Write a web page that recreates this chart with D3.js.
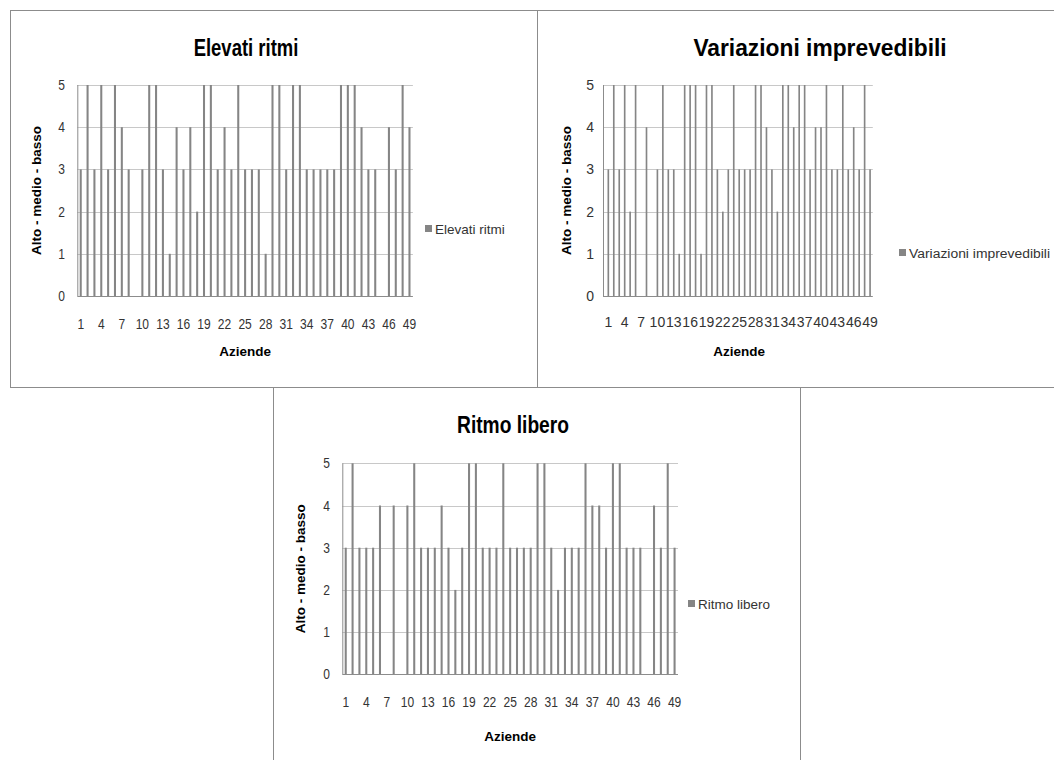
<!DOCTYPE html>
<html><head><meta charset="utf-8">
<script src="https://cdn.jsdelivr.net/npm/d3@7"></script>
<style>
html,body{margin:0;padding:0;background:#fff;}
svg{display:block;}
</style></head>
<body>
<svg id="c" width="1054" height="760"></svg>
<script>
// ---- data ----
const categories = d3.range(1, 50);
const tickLabels = categories.filter((d, i) => i % 3 === 0);
const yTicks = [0, 1, 2, 3, 4, 5];
const elevatiRitmi = [3,5,3,5,3,5,4,3,0,3,5,5,3,1,4,3,4,2,5,5,3,4,3,5,3,3,3,1,5,5,3,5,5,3,3,3,3,3,5,5,5,4,3,3,0,4,3,5,4];
const variazioniImprevedibili = [3,5,3,5,2,5,0,4,0,3,5,3,3,1,5,5,5,1,5,5,3,2,3,5,3,3,3,5,5,4,3,2,5,5,4,5,5,3,4,4,5,3,3,5,3,4,3,5,3];
const ritmoLibero = [3,5,3,3,3,4,0,4,0,4,5,3,3,3,4,3,2,3,5,5,3,3,3,5,3,3,3,3,5,5,3,2,3,3,3,5,4,4,3,5,5,3,3,3,0,4,3,5,3];
const titles = ["Elevati ritmi", "Variazioni imprevedibili", "Ritmo libero"];
const yAxisTitle = "Alto - medio - basso";
const xAxisTitle = "Aziende";

// ---- layout ----
const FONT = "'Liberation Sans', Arial, sans-serif";
const charts = [
  {values: elevatiRitmi, title: titles[0], sx: 0.86, titleSx: 0.77,
   frame: [10, 10, 527, 377], axisX: 77.3, band: [77.3, 412.9], yr: [296, 85],
   titleXY: [246, 56], ytitleX: 41, xtitleY: 356, xtickY: 329, ytickX: 65,
   legend: [425, 229], legendSx: 1},
  {values: variazioniImprevedibili, title: titles[1], sx: 1, titleSx: 0.95,
   frame: [537, 10, 530, 377], axisX: 603, band: [605.6, 872.8], yr: [296, 85],
   titleXY: [820, 56], ytitleX: 571, xtitleY: 356, xtickY: 327, ytickX: 594,
   legend: [899, 253], legendSx: 1.03},
  {values: ritmoLibero, title: titles[2], sx: 0.86, titleSx: 0.8,
   frame: [273, 387, 527, 380], axisX: 342.3, band: [342.3, 678], yr: [674.3, 463.3],
   titleXY: [513, 433], ytitleX: 305, xtitleY: 741, xtickY: 707, ytickX: 330,
   legend: [688, 604], legendSx: 1}
];

const svg = d3.select("#c");
const barColor = "#858585";

function txt(g, x, y, s, sx, opts) {
  const t = g.append("text")
    .attr("transform", `translate(${x},${y}) scale(${sx},1)` + (opts.rotate ? ` rotate(${opts.rotate})` : ""))
    .attr("font-family", FONT)
    .attr("font-size", opts.size)
    .attr("font-weight", opts.bold ? "bold" : "normal")
    .attr("fill", opts.fill || "#000")
    .attr("text-anchor", opts.anchor || "start")
    .text(s);
  if (opts.dy) t.attr("dy", opts.dy);
  return t;
}

charts.forEach(c => {
  const g = svg.append("g");
  const [fx, fy, fw, fh] = c.frame;
  g.append("rect").attr("x", fx + 0.5).attr("y", fy + 0.5).attr("width", fw).attr("height", fh)
    .attr("fill", "#fff").attr("stroke", "#8c8c8c").attr("stroke-width", 1);

  const x = d3.scaleBand().domain(categories).range(c.band).padding(0);
  const y = d3.scaleLinear().domain([0, 5]).range(c.yr);

  // gridlines
  g.selectAll(".grid").data(yTicks.filter(t => t > 0)).join("line")
    .attr("x1", c.axisX).attr("x2", c.band[1])
    .attr("y1", d => Math.round(y(d)) + 0.5).attr("y2", d => Math.round(y(d)) + 0.5)
    .attr("stroke", "#c8c8c8").attr("stroke-width", 1);

  // bars
  const bw = x.bandwidth() * 0.3;
  g.selectAll(".bar").data(c.values.map((v, i) => ({c: categories[i], v}))).join("rect")
    .attr("x", d => x(d.c) + x.bandwidth() / 2 - bw / 2)
    .attr("width", bw)
    .attr("y", d => y(d.v))
    .attr("height", d => y(0) - y(d.v))
    .attr("fill", barColor);

  // axis lines
  g.append("line").attr("x1", c.axisX + 0.5).attr("x2", c.axisX + 0.5)
    .attr("y1", y(5)).attr("y2", y(0)).attr("stroke", "#8c8c8c");
  g.append("line").attr("x1", c.axisX).attr("x2", c.band[1])
    .attr("y1", Math.round(y(0)) + 0.5).attr("y2", Math.round(y(0)) + 0.5).attr("stroke", "#8c8c8c");

  // y tick labels
  yTicks.forEach(t => txt(g, c.ytickX, y(t), t, c.sx, {size: 14, anchor: "end", fill: "#333", dy: "0.36em"}));
  // x tick labels
  tickLabels.forEach(t => txt(g, x(t) + x.bandwidth() / 2, c.xtickY, t, c.sx, {size: 14, anchor: "middle", fill: "#333"}));

  // title
  txt(g, c.titleXY[0], c.titleXY[1], c.title, c.titleSx, {size: 24, bold: true, anchor: "middle"});

  // axis titles
  const cy = (c.yr[0] + c.yr[1]) / 2;
  txt(g, c.ytitleX, cy, yAxisTitle, 1, {size: 13.5, bold: true, anchor: "middle", rotate: -90});
  txt(g, (c.band[0] + c.band[1]) / 2, c.xtitleY, xAxisTitle, 1, {size: 13.5, bold: true, anchor: "middle"});

  // legend
  g.append("rect").attr("x", c.legend[0]).attr("y", c.legend[1] - 4).attr("width", 7).attr("height", 7)
    .attr("fill", barColor);
  txt(g, c.legend[0] + 10, c.legend[1], c.title, c.legendSx, {size: 13.5, fill: "#333", dy: "0.35em"});
});
</script>
</body></html>
